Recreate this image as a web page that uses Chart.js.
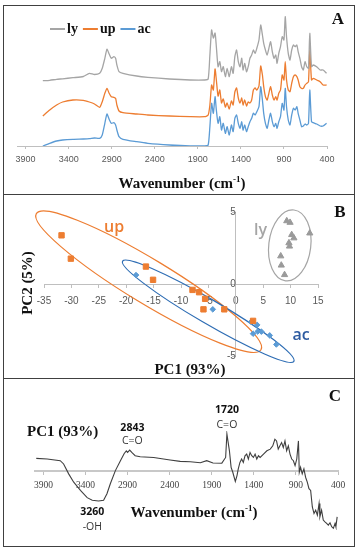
<!DOCTYPE html>
<html>
<head>
<meta charset="UTF-8">
<title>FTIR spectra and PCA</title>
<script src="https://cdn.jsdelivr.net/npm/chart.js"></script>
<style>
  body { margin: 0; background: #fff; }
  #fig { position: relative; width: 361px; height: 550px; }
  .frame { position: absolute; left: 3px; top: 5px; width: 350px; height: 540px; border: 1px solid #404040; }
  .sep { position: absolute; left: 3px; width: 352px; height: 0; border-top: 1px solid #404040; }
  canvas { position: absolute; }
</style>
</head>
<body>
<div id="fig">
  <div class="frame"></div>
  <div class="sep" style="top:194px"></div>
  <div class="sep" style="top:378px"></div>
  <canvas id="chartA" width="349" height="187" style="left:4px;top:6px"></canvas>
  <canvas id="chartB" width="349" height="181" style="left:4px;top:196px"></canvas>
  <canvas id="chartC" width="349" height="165" style="left:4px;top:380px"></canvas>
</div>

<script>
// ---- panel A: FTIR spectra (arbitrary units, offset as plotted) ----
const wavenumbersA = [3700,3620,3540,3470,3350,3230,3160,3100,3040,3010,2980,2955,2930,2905,2875,2855,2840,2815,2770,2610,2480,2230,1990,1820,1780,
  1760,1740,1720,1700,1685,1665,1645,1625,1605,1580,1560,1535,1510,1490,1470,1450,1430,1410,1390,1375,1355,1335,1315,1295,1275,1255,1235,1215,1190,1170,
  1150,1135,1115,1095,1075,1055,1035,1015,995,980,960,940,920,900,885,870,850,830,810,790,770,750,735,715,695,675,655,635,615,600,580,560,520,480,445,405];
const lySpectrum = [65.3,65.7,66.7,67.2,68.3,69.5,72.7,71.5,72.7,77.7,87.7,96.7,92,87.7,89.3,87.7,81,74.3,72.7,70,68.7,67,66,66,67,
  91,116,108,113,99.3,79.3,84.3,74.3,79.3,69.3,77.7,69.3,79.3,72.7,89.3,96,84.3,79.3,87.7,76,82.7,74.3,79.3,87.7,91,96,92.7,97.7,106,121,
  111,102.7,96,91,97.7,104.3,94.3,87.7,91,82.7,92.7,99.3,109.3,106,129.3,109.3,92.7,86,96,101,99.3,101,94.3,87.7,79.3,76,84.3,79.3,77.7,112.7,79.3,81,79.3,76,76,72.7];
const upSpectrum = [30,36,41,44,46,45.7,44,42,38.7,44.3,52.7,57.7,52.7,49.3,48.7,47.7,41,35,33.3,32,31,30,29.3,29.3,31,
  41,61,56,77,66,50,56,43,47,39,43,37,45,41,54,58,48,43,48,41,46,40,44,43,46,56,58,56,60,80,
  71,59.3,49.3,46,52.7,59.3,51,46,49.3,46,52.7,56,71,66,84.3,66,56,54.3,62.7,69.3,71,69.3,66,59.3,57.7,57.7,61,62.7,64.3,96,66,67.7,66,64.3,61,61];
const acSpectrum = [0,2.7,5,6,6.7,7,7.3,8,7.7,11,22.7,32,26.7,22.7,23.3,21,16,9.3,6.7,4.3,2.7,1,0,0,1,
  19.3,42.7,32.7,49.3,36,22.7,29.3,16,22.7,12.7,19.3,11,21,14.3,27.7,31,22.7,17.7,24.3,16,21,14.3,19.3,24.3,27.7,32.7,31,34.3,39.3,59.3,
  46,32.7,22.7,17.7,26,32.7,24.3,19.3,22.7,17.7,24.3,29.3,42.7,36,57.7,39.3,26,21,31,37.7,36,39.3,32.7,26,19.3,20,22,21,22.7,56,24.3,23.3,22,20,20,22.7];
const wnTicks = [3900, 3400, 2900, 2400, 1900, 1400, 900, 400];

// ---- panel B: PCA scores ----
const upPC1 = [-31.8,-30.1,-16.4,-15.1,-7.9,-6.7,-5.6,-5.9,-2.1,3.15];
const upPC2 = [3.38,1.76,1.21,0.29,-0.41,-0.57,-1.03,-1.76,-1.76,-2.56];
const acPC1 = [-18.2,-4.2,2.8,3.9,3.15,4.0,4.67,6.19,7.4];
const acPC2 = [0.62,-1.76,-2.63,-2.84,-3.45,-3.3,-3.31,-3.57,-4.2];
const lyPC1 = [9.3,9.9,10.2,10.6,9.7,9.8,13.5,8.2,8.3,8.9];
const lyPC2 = [4.38,4.27,3.42,3.19,2.85,2.62,3.53,1.94,1.30,0.64];

// ---- panel C: PC1 loadings ----
const wavenumbersC = [3985,3855,3700,3660,3600,3540,3460,3380,3320,3245,3185,3145,3105,3045,2985,2940,2915,2900,2875,2850,2810,2750,2590,2395,2275,2155,2035,1960,1885,1780,
  1735,1720,1690,1670,1650,1620,1600,1585,1565,1545,1525,1505,1485,1465,1445,1425,1405,1385,1365,1345,1325,1285,1245,1205,1175,1150,1130,1110,1090,1070,1050,1030,1010,990,970,950,930,910,890,870,
  860,845,825,805,785,765,745,725,705,685,665,645,625,615,595,575,555,535,515,495,475,455,435,425,410];
const pc1Loading = [12.3,11.7,10,6.7,-3.3,-11.7,-20,-27.3,-30,-30.7,-30,-23.3,-13.3,0,10,17.3,20,18.3,20.7,18.3,15,14,13.3,10.7,9.3,9,8,10,7.7,7.5,
  13.3,37,20,3.3,-1.7,-11,-5,1.7,8.3,11.7,8.3,15,16.7,11.7,18.3,15,13.3,16.7,11.7,15,13.3,16.7,20,21.7,25,31.7,30,21.7,25,28.3,23.3,30,20,25,16.7,11.7,10,5,11.7,30,
  -1.7,3.3,-3.3,1.7,-6.7,-11.7,-18.3,-20,-36.7,-43.3,-40,-45,-33.3,-46.7,-40,-50,-51.7,-53.3,-55,-52.7,-56.7,-58.3,-53.3,-56.7,-46.7];

const GRAY = '#a5a5a5', ORANGE = '#ed7d31', BLUE = '#5b9bd5';
const SERIF = '"Liberation Serif", serif';
const SANS = '"Open Sans", sans-serif';

function pts(xs, ys) { return xs.map((x, i) => ({ x: x, y: ys[i] })); }
const plain = v => String(v);

function text(ctx, str, x, y, font, color, align) {
  ctx.save();
  ctx.font = font;
  ctx.fillStyle = color;
  ctx.textAlign = align || 'center';
  ctx.textBaseline = 'middle';
  ctx.fillText(str, x, y);
  ctx.restore();
}

// "Wavenumber (cm-1)" with a raised -1
function wavenumberTitle(ctx, cx, cy, size) {
  const main = 'Wavenumber (cm', sup = '-1', tail = ')';
  const f1 = 'bold ' + size + 'px ' + SERIF, f2 = 'bold ' + Math.round(size * 0.6) + 'px ' + SERIF;
  ctx.save();
  ctx.font = f1;
  const w1 = ctx.measureText(main).width, w3 = ctx.measureText(tail).width;
  ctx.font = f2;
  const w2 = ctx.measureText(sup).width;
  let x = cx - (w1 + w2 + w3) / 2;
  ctx.textBaseline = 'alphabetic';
  ctx.fillStyle = '#111';
  const base = cy + size * 0.33;
  ctx.font = f1; ctx.fillText(main, x, base); x += w1;
  ctx.font = f2; ctx.fillText(sup, x, base - size * 0.38); x += w2;
  ctx.font = f1; ctx.fillText(tail, x, base);
  ctx.restore();
}

function wnAxis(extra) {
  return Object.assign({
    type: 'linear', reverse: true, min: 400, max: 4000,
    afterBuildTicks: s => { s.ticks = wnTicks.map(v => ({ value: v })); },
    grid: { drawOnChartArea: false, drawTicks: true, tickLength: 3, color: '#bfbfbf' },
    border: { color: '#bfbfbf' }
  }, extra);
}

// ---------------- A ----------------
const panelA = {
  id: 'panelA',
  afterDraw(chart) {
    const ctx = chart.ctx;
    // legend
    let x = 46;
    const y = 23;
    chart.data.datasets.forEach(ds => {
      ctx.save();
      ctx.strokeStyle = ds.borderColor; ctx.lineWidth = 2;
      ctx.beginPath(); ctx.moveTo(x, y); ctx.lineTo(x + 15, y); ctx.stroke();
      ctx.font = 'bold 14px ' + SERIF;
      const w = ctx.measureText(ds.label).width;
      ctx.restore();
      text(ctx, ds.label, x + 17, y, 'bold 14px ' + SERIF, '#111', 'left');
      x += 17 + w + 5;
    });
    text(ctx, 'A', 334, 14, 'bold 17px ' + SERIF, '#111');
    wavenumberTitle(ctx, 178, 177, 15);
  }
};

new Chart(document.getElementById('chartA'), {
  type: 'line',
  data: {
    datasets: [
      { label: 'ly', data: pts(wavenumbersA, lySpectrum), borderColor: GRAY },
      { label: 'up', data: pts(wavenumbersA, upSpectrum), borderColor: ORANGE },
      { label: 'ac', data: pts(wavenumbersA, acSpectrum), borderColor: BLUE }
    ]
  },
  options: {
    responsive: false, animation: false,
    layout: { padding: { left: 13, right: 26, top: 10, bottom: 0 } },
    elements: { point: { radius: 0 }, line: { borderWidth: 1.3, tension: 0.2 } },
    plugins: { legend: { display: false }, tooltip: { enabled: false } },
    scales: {
      x: wnAxis({
        ticks: { color: '#595959', font: { size: 9, family: 'Liberation Sans' }, padding: 5, maxRotation: 0, callback: plain },
        afterFit: s => { s.height = 47; }
      }),
      y: { display: false, min: 0, max: 130 }
    }
  },
  plugins: [panelA]
});

// ---------------- B ----------------
const clusterEllipses = [
  { center: [-15.9, 0.16], tip: [4.6, -4.57], halfWidth: 22, color: ORANGE },
  { center: [-5.03, -1.89], tip: [10.6, -5.37], halfWidth: 12, color: '#2e6db4' },
  { center: [9.85, 2.68], tip: [10.62, 5.14], halfWidth: 21, color: GRAY }
];
const clusterLabels = [
  { text: 'up', at: [-22.2, 3.92], color: ORANGE },
  { text: 'ly', at: [4.5, 3.72], color: GRAY },
  { text: 'ac', at: [11.9, -3.54], color: '#2c5aa0' }
];

const panelB = {
  id: 'panelB',
  beforeDatasetsDraw(chart) {
    const ctx = chart.ctx, sx = chart.scales.x, sy = chart.scales.y;
    clusterEllipses.forEach(e => {
      const cx = sx.getPixelForValue(e.center[0]), cy = sy.getPixelForValue(e.center[1]);
      const tx = sx.getPixelForValue(e.tip[0]), ty = sy.getPixelForValue(e.tip[1]);
      ctx.save();
      ctx.beginPath();
      ctx.ellipse(cx, cy, Math.hypot(tx - cx, ty - cy), e.halfWidth, Math.atan2(ty - cy, tx - cx), 0, Math.PI * 2);
      ctx.strokeStyle = e.color; ctx.lineWidth = 1.2; ctx.stroke();
      ctx.restore();
    });
  },
  afterDraw(chart) {
    const ctx = chart.ctx, sx = chart.scales.x, sy = chart.scales.y;
    clusterLabels.forEach(l => {
      text(ctx, l.text, sx.getPixelForValue(l.at[0]), sy.getPixelForValue(l.at[1]), '600 16px ' + SANS, l.color);
    });
    text(ctx, 'B', 336, 17, 'bold 17px ' + SERIF, '#111');
    text(ctx, 'PC1 (93%)', 186, 174, 'bold 15px ' + SERIF, '#111');
    ctx.save();
    ctx.translate(24, 87);
    ctx.rotate(-Math.PI / 2);
    text(ctx, 'PC2 (5%)', 0, 0, 'bold 15px ' + SERIF, '#111');
    ctx.restore();
  }
};

function centerAxis(pad) {
  return {
    grid: { drawOnChartArea: false, drawTicks: true, tickLength: 3, color: '#bfbfbf' },
    border: { color: '#bfbfbf' },
    ticks: { stepSize: 5, color: '#595959', font: { size: 10, family: 'Liberation Sans' }, padding: pad, callback: plain }
  };
}

new Chart(document.getElementById('chartB'), {
  type: 'scatter',
  data: {
    datasets: [
      { label: 'up', data: pts(upPC1, upPC2), pointStyle: 'rect', pointRadius: 3.8, backgroundColor: ORANGE, borderColor: ORANGE },
      { label: 'ac', data: pts(acPC1, acPC2), pointStyle: 'rectRot', pointRadius: 2.8, backgroundColor: BLUE, borderColor: BLUE },
      { label: 'ly', data: pts(lyPC1, lyPC2), pointStyle: 'triangle', pointRadius: 3.6, backgroundColor: '#9a9a9a', borderColor: '#9a9a9a' }
    ]
  },
  options: {
    responsive: false, animation: false,
    layout: { padding: { left: 40, right: 35, top: 14, bottom: 21 } },
    plugins: { legend: { display: false }, tooltip: { enabled: false } },
    scales: {
      x: Object.assign({ min: -35, max: 15, position: { y: 0 } }, centerAxis(8)),
      y: Object.assign({ min: -5, max: 5, position: { x: 0 } }, centerAxis(10))
    }
  },
  plugins: [panelB]
});

// ---------------- C ----------------
const bandLabels = [
  { wn: 2843, y: 43, text: '2843', sub: 'C=O', subY: 30, dx: 0 },
  { wn: 1720, y: 61, text: '1720', sub: 'C=O', subY: 46, dx: 0 },
  { wn: 3260, y: -42, text: '3260', sub: '-OH', subY: -57, dx: -5 }
];

const panelC = {
  id: 'panelC',
  afterDraw(chart) {
    const ctx = chart.ctx, sx = chart.scales.x, sy = chart.scales.y;
    bandLabels.forEach(b => {
      const px = sx.getPixelForValue(b.wn) + b.dx;
      text(ctx, b.text, px, sy.getPixelForValue(b.y), 'bold 10.5px ' + SANS, '#111');
      text(ctx, b.sub, px, sy.getPixelForValue(b.subY), '10.5px ' + SANS, '#333');
    });
    text(ctx, 'C', 331, 17, 'bold 17px ' + SERIF, '#111');
    text(ctx, 'PC1 (93%)', 23, 52, 'bold 15px ' + SERIF, '#111', 'left');
    wavenumberTitle(ctx, 190, 132, 15);
  }
};

new Chart(document.getElementById('chartC'), {
  type: 'line',
  data: {
    datasets: [{ label: 'PC1', data: pts(wavenumbersC, pc1Loading), borderColor: '#3f3f3f', borderWidth: 1.1, pointRadius: 0, tension: 0 }]
  },
  options: {
    responsive: false, animation: false,
    layout: { padding: { left: 31, right: 15, top: 51, bottom: 15 } },
    plugins: { legend: { display: false }, tooltip: { enabled: false } },
    scales: {
      x: wnAxis({
        position: { y: 0 },
        border: { color: '#c8c8c8', width: 2 },
        ticks: { color: '#444', font: { size: 9.5, family: 'Liberation Serif' }, padding: 6, maxRotation: 0, callback: plain }
      }),
      y: { display: false, min: -60, max: 40 }
    }
  },
  plugins: [panelC]
});
</script>
</body>
</html>
